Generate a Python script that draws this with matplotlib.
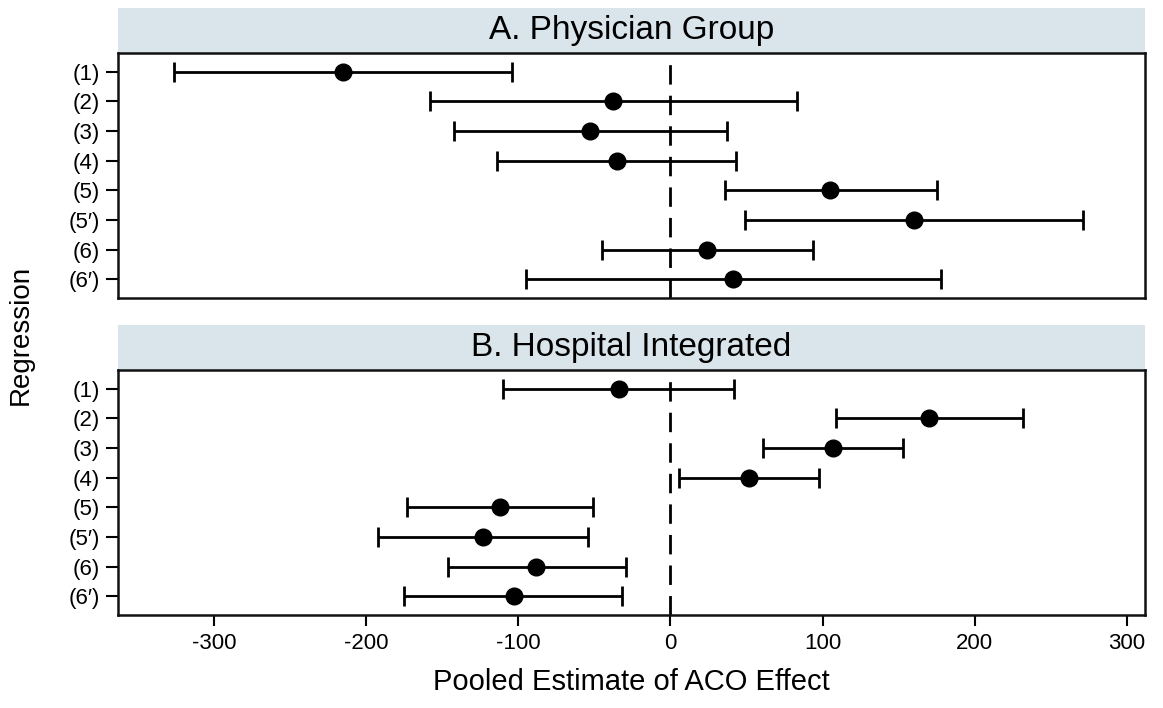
import matplotlib
matplotlib.use("Agg")
import matplotlib.pyplot as plt
from matplotlib.patches import Rectangle

plt.rcParams["font.family"] = ["Liberation Sans", "DejaVu Sans"]
plt.rcParams["axes.unicode_minus"] = False

regressions = ["(1)", "(2)", "(3)", "(4)", "(5)", "(5\u2032)", "(6)", "(6\u2032)"]

# A. Physician Group
phys_est = [-215, -38, -53, -35, 105, 160, 24, 41]
phys_lo = [-326, -158, -142, -114, 36, 49, -45, -95]
phys_hi = [-104, 83, 37, 43, 175, 271, 94, 178]

# B. Hospital Integrated
hosp_est = [-34, 170, 107, 52, -112, -123, -88, -103]
hosp_lo = [-110, 109, 61, 6, -173, -192, -146, -175]
hosp_hi = [42, 232, 153, 98, -51, -54, -29, -32]

panels = [
    ("A. Physician Group", phys_est, phys_lo, phys_hi),
    ("B. Hospital Integrated", hosp_est, hosp_lo, hosp_hi),
]

fig = plt.figure(figsize=(11.63, 7.08), dpi=100)
left, width, height = 0.1015, 0.8831, 0.346
bottoms = [0.5791, 0.1314]
strip_h = 45 / 245  # strip height relative to the panel

for i, (title, est, lo, hi) in enumerate(panels):
    ax = fig.add_axes([left, bottoms[i], width, height])
    ypos = list(range(1, len(regressions) + 1))
    xerr = [[e - l for e, l in zip(est, lo)], [h - e for e, h in zip(est, hi)]]

    ax.axvline(0, color="black", lw=2.0, linestyle=(0, (7, 4)), zorder=1)
    ax.errorbar(est, ypos, xerr=xerr, fmt="o", color="black", ms=12,
                elinewidth=2.0, capsize=7.5, capthick=2.0, zorder=3)

    ax.set_xlim(-363, 312)
    ax.set_ylim(8.63, 0.37)
    ax.set_yticks(ypos)
    ax.set_yticklabels(regressions, fontsize=16)
    ax.tick_params(axis="y", length=9, width=1.5, pad=4)
    for sp in ax.spines.values():
        sp.set_linewidth(1.8)
        sp.set_color("#111111")

    if i == 0:
        ax.set_xticks([])
    else:
        ax.set_xticks([-300, -200, -100, 0, 100, 200, 300])
        ax.tick_params(axis="x", length=8, width=1.5, labelsize=16, pad=5)
        ax.set_xlabel("Pooled Estimate of ACO Effect", fontsize=21, labelpad=10)

    # header strip above each panel
    ax.add_patch(Rectangle((0, 1), 1, strip_h, transform=ax.transAxes,
                           facecolor="#D9E5EB", edgecolor="none", clip_on=False))
    ax.text(0.5, 1 + strip_h / 2, title, transform=ax.transAxes,
            ha="center", va="center", fontsize=24)

fig.text(0.018, 0.527, "Regression", rotation=90, ha="center", va="center",
         fontsize=20)

fig.savefig("out.png", dpi=100)
